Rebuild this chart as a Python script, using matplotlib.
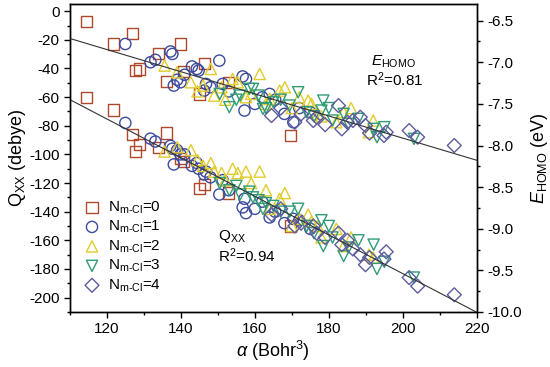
import matplotlib
matplotlib.use('Agg')
import matplotlib.pyplot as plt
from matplotlib.ticker import MultipleLocator, FormatStrFormatter
import numpy as np

plt.rcParams['font.family'] = 'Liberation Sans'
plt.rcParams['mathtext.fontset'] = 'custom'
plt.rcParams['mathtext.rm'] = 'Liberation Sans'
plt.rcParams['mathtext.it'] = 'Liberation Sans:italic'
plt.rcParams['axes.unicode_minus'] = False

# N_m-Cl = 0 (quadrados)
alpha_0 = [114.6, 121.7, 126.9, 127.8, 128.9, 134.0, 136.2, 140.0, 140.8, 145.0, 146.5, 152.9, 169.6]
ehomo_0 = [-6.51, -6.78, -6.65, -7.10, -7.08, -6.89, -7.23, -6.78, -7.11, -7.38, -7.01, -7.24, -7.88]
qxx_0 = [-60, -69, -86, -98, -93, -95, -85, -103, -105, -124, -121, -127, -150]

# N_m-Cl = 1 (circulos)
alpha_1 = [125.0, 131.8, 133.1, 137.2, 137.7, 138.1, 139.0, 139.9, 144.3, 144.8, 146.3, 146.8,
           150.4, 151.3, 156.7, 157.2, 157.6, 164.0, 165.5, 170.4, 172.0,
           141.0, 143.0, 148.0, 153.0, 160.0, 162.0, 168.0, 175.0]
ehomo_1 = [-6.78, -7.00, -6.97, -6.87, -6.90, -7.28, -7.21, -7.24, -7.08, -7.10, -7.34, -7.26,
           -6.98, -7.26, -7.17, -7.58, -7.20, -7.38, -7.45, -7.72, -7.55,
           -7.15, -7.05, -7.30, -7.35, -7.50, -7.42, -7.62, -7.60]
qxx_1 = [-78, -89, -91, -94, -96, -107, -97, -100, -106, -110, -114, -112,
         -128, -118, -137, -131, -141, -144, -140, -145, -146,
         -100, -108, -116, -125, -138, -133, -148, -152]

# N_m-Cl = 2 (triangulos)
alpha_2 = [135.6, 142.7, 144.5, 148.1, 149.0, 152.0, 155.4, 157.6, 161.3, 163.0, 166.7, 168.1,
           170.0, 174.4, 175.3, 178.0, 182.0, 190.8, 184.0,
           139.0, 146.0, 151.0, 154.0, 159.0, 164.0, 172.0, 177.0, 186.0, 192.0]
ehomo_2 = [-7.04, -7.24, -7.35, -7.08, -7.40, -7.45, -7.24, -7.42, -7.14, -7.50, -7.34, -7.30,
           -7.55, -7.46, -7.50, -7.65, -7.72, -7.84, -7.60,
           -7.12, -7.28, -7.30, -7.20, -7.38, -7.44, -7.42, -7.62, -7.55, -7.70]
qxx_2 = [-98, -97, -104, -106, -112, -118, -113, -112, -112, -125, -131, -127,
         -150, -142, -147, -158, -152, -170, -164,
         -95, -108, -113, -110, -120, -138, -145, -150, -158, -172]

# N_m-Cl = 3 (triangulos invertidos)
alpha_3 = [150.5, 153.1, 156.0, 158.5, 159.5, 162.2, 165.0, 169.4, 171.7, 174.0, 178.0, 178.5,
           181.0, 184.0, 185.3, 192.1, 193.0, 203.0,
           155.0, 161.0, 163.0, 167.0, 176.0, 180.0, 188.0, 195.0]
ehomo_3 = [-7.38, -7.54, -7.40, -7.32, -7.32, -7.56, -7.48, -7.52, -7.36, -7.60, -7.58, -7.46,
           -7.70, -7.62, -7.74, -7.80, -7.90, -7.92,
           -7.45, -7.40, -7.55, -7.45, -7.65, -7.55, -7.68, -7.78]
qxx_3 = [-120, -125, -128, -126, -130, -138, -136, -140, -138, -150, -146, -164,
         -158, -171, -165, -163, -180, -186,
         -122, -132, -134, -140, -155, -150, -160, -175]

# N_m-Cl = 4 (losangos)
alpha_4 = [164.5, 167.0, 170.8, 175.8, 176.7, 182.6, 183.5, 185.0, 188.5, 189.9, 194.9, 195.5,
           201.7, 204.0, 213.9, 172.5, 179.0, 186.5, 191.0]
ehomo_4 = [-7.64, -7.55, -7.72, -7.70, -7.66, -7.52, -7.80, -7.72, -7.66, -7.76, -7.88, -7.84,
           -7.82, -7.90, -8.00, -7.62, -7.75, -7.70, -7.85]
qxx_4 = [-142, -138, -150, -150, -155, -155, -163, -160, -170, -177, -173, -168,
         -186, -192, -198, -148, -158, -166, -172]

grupos = [
    (alpha_0, ehomo_0, qxx_0, 's', '#b0482c', '0'),
    (alpha_1, ehomo_1, qxx_1, 'o', '#3b4a9e', '1'),
    (alpha_2, ehomo_2, qxx_2, '^', '#e2cc2c', '2'),
    (alpha_3, ehomo_3, qxx_3, 'v', '#2f9c76', '3'),
    (alpha_4, ehomo_4, qxx_4, 'D', '#5c5c9e', '4'),
]

fig, ax = plt.subplots(figsize=(5.5, 3.67), dpi=100)
fig.subplots_adjust(left=0.127, right=0.867, bottom=0.15, top=0.989)
ax2 = ax.twinx()

for a, e, q, m, c, n in grupos:
    ms = 50 if m == 'D' else 65
    ax.scatter(a, q, s=ms, marker=m, facecolors='none', edgecolors=c, linewidths=1.0,
               label=r'N$_{\rm m\text{-}Cl}$=' + n)
    ax2.scatter(a, e, s=ms, marker=m, facecolors='none', edgecolors=c, linewidths=1.0)

# ajustes lineares
todos_a = np.concatenate([g[0] for g in grupos])
todos_e = np.concatenate([g[1] for g in grupos])
todos_q = np.concatenate([g[2] for g in grupos])
xl = np.array([110, 220])
pq = np.polyfit(todos_a, todos_q, 1)
pe = np.polyfit(todos_a, todos_e, 1)
ax.plot(xl, np.polyval(pq, xl), color='#333333', lw=0.8, zorder=5)
ax2.plot(xl, np.polyval(pe, xl), color='#333333', lw=0.8, zorder=5)

ax.set_xlim(110, 220)
ax.set_ylim(-210, 5)
ax2.set_ylim(-10.0, -6.3)

ax.xaxis.set_major_locator(MultipleLocator(20))
ax.xaxis.set_minor_locator(MultipleLocator(10))
ax.yaxis.set_major_locator(MultipleLocator(20))
ax.yaxis.set_minor_locator(MultipleLocator(10))
ax2.yaxis.set_major_locator(MultipleLocator(0.5))
ax2.yaxis.set_minor_locator(MultipleLocator(0.25))
ax2.yaxis.set_major_formatter(FormatStrFormatter('%.1f'))

for a_ in (ax, ax2):
    a_.tick_params(which='major', direction='out', length=4, width=1, labelsize=11)
    a_.tick_params(which='minor', direction='out', length=2.5, width=1)
    for s in a_.spines.values():
        s.set_linewidth(1.0)

ax.set_xlabel(r'$\alpha$ (Bohr$^3$)', fontsize=13, labelpad=2)
ax.set_ylabel(r'Q$_{\rm XX}$ (debye)', fontsize=13, labelpad=1)
ax2.set_ylabel(r'$E_{\rm HOMO}$ (eV)', fontsize=13, labelpad=5)

ax.text(191.5, -38, r'$E_{\rm HOMO}$', fontsize=11)
ax.text(190, -52, r'R$^2$=0.81', fontsize=11)
ax.text(150, -160, r'Q$_{\rm XX}$', fontsize=11)
ax.text(150, -175, r'R$^2$=0.94', fontsize=11)

ax.legend(loc='upper left', bbox_to_anchor=(0.0, 0.40), frameon=False, fontsize=11,
          handletextpad=0.3, labelspacing=0.2, borderaxespad=0.3, handlelength=1.5)

plt.savefig('out.png', dpi=100)
